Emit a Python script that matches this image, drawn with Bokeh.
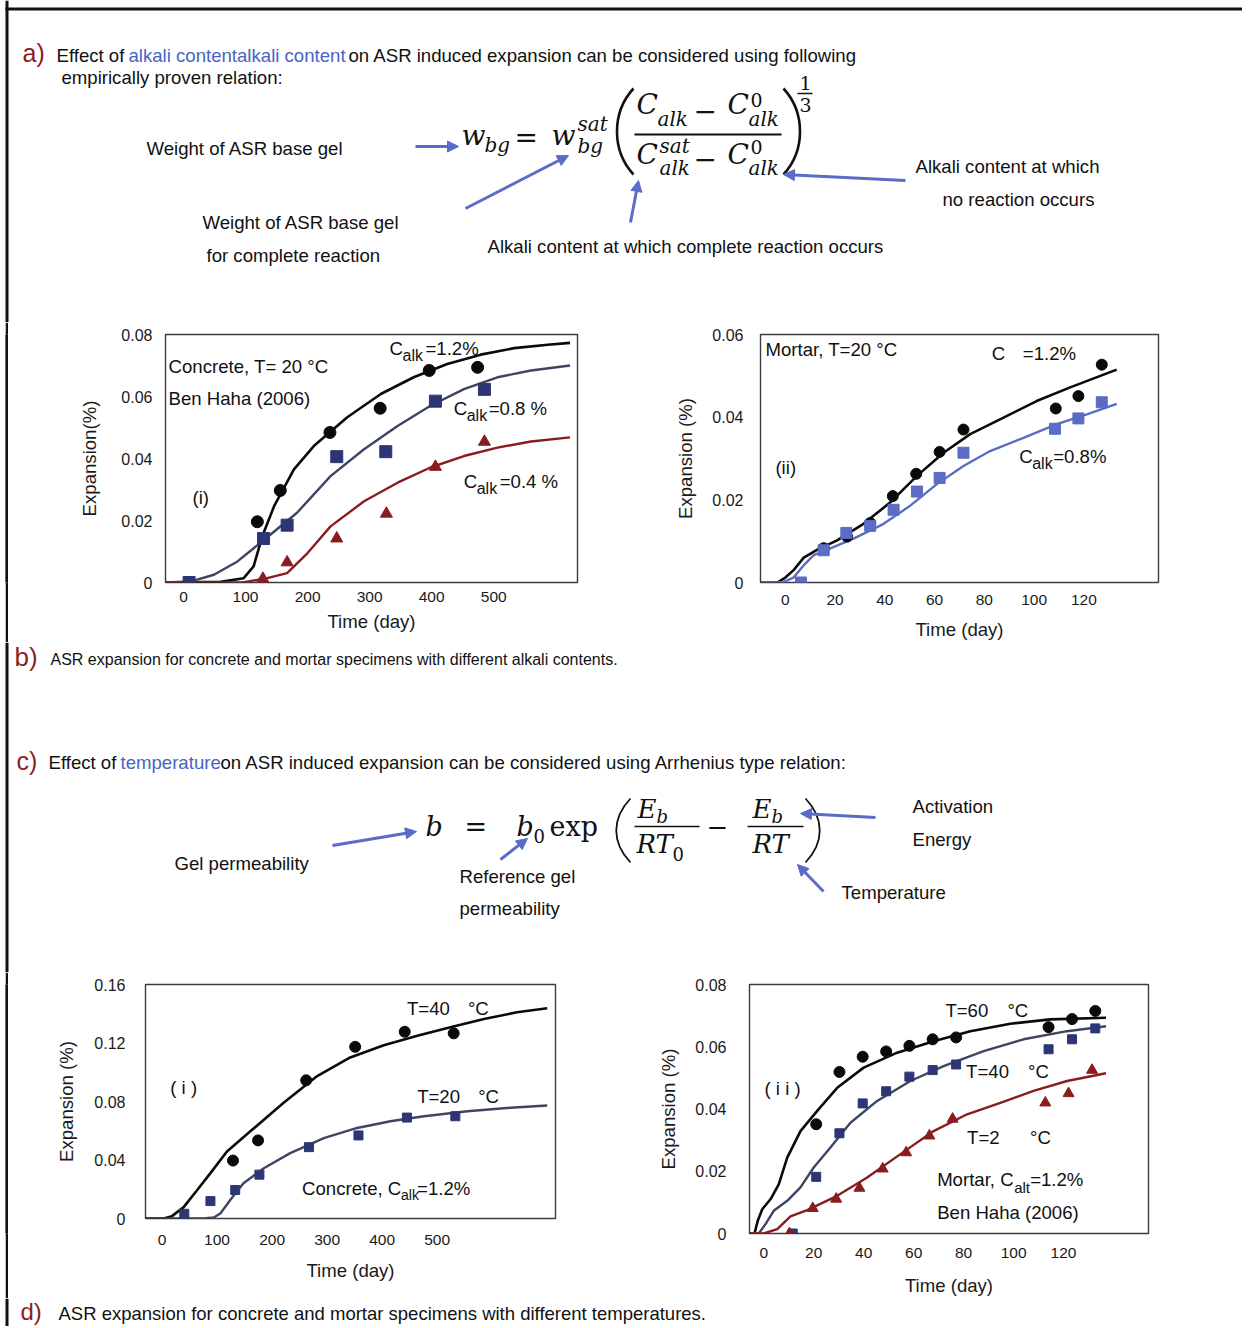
from bokeh.plotting import figure
from bokeh.layouts import column, row
from bokeh.models import Range1d, FixedTicker, Arrow, NormalHead, Spacer
from bokeh.core.properties import value
from bokeh.embed import file_html
from bokeh.resources import INLINE

SANS = "Liberation Sans"
SERIF = "DejaVu Serif"
RED = "#8b1d24"
BLUE_TXT = "#4863c6"
ARROW = "#5b6bc9"
INK = "#111111"
C_BLACK = "#0a0a0a"
C_NAVY = "#2c3675"
C_SLATE = "#3e4563"
C_RED = "#8a1c1f"
C_LBLUE = "#5a6cc4"
FS = 18.6

# ---------------- data: b(i) concrete, T=20 C ----------------
b1_pts_t_12 = [119, 156, 236, 317, 396, 474]
b1_pts_e_12 = [0.0196, 0.0297, 0.0484, 0.0562, 0.0684, 0.0694]
b1_pts_t_08 = [9, 129, 167, 247, 326, 406, 485]
b1_pts_e_08 = [0.0, 0.0142, 0.0185, 0.0406, 0.0422, 0.0585, 0.0623]
b1_pts_t_04 = [128, 167, 247, 327, 406, 485]
b1_pts_e_04 = [0.0012, 0.0065, 0.0142, 0.0222, 0.0373, 0.0454]
b1_fit_t_12 = [-29, 60, 97, 113, 127, 146, 178, 210, 264, 318, 371, 425, 479, 533, 587, 623]
b1_fit_e_12 = [0, 0.0002, 0.0014, 0.0052, 0.0149, 0.0246, 0.0365, 0.044, 0.0533, 0.0608,
               0.0662, 0.0705, 0.0735, 0.0756, 0.0767, 0.0773]
b1_fit_t_08 = [-29, 11, 49, 87, 130, 183, 237, 291, 345, 398, 452, 506, 560, 623]
b1_fit_e_08 = [0, 0.0003, 0.0025, 0.0068, 0.0138, 0.0225, 0.0343, 0.043, 0.0505, 0.057,
               0.0624, 0.0662, 0.0684, 0.0700]
b1_fit_t_04 = [-29, 95, 135, 167, 200, 237, 291, 345, 398, 452, 506, 560, 623]
b1_fit_e_04 = [0, 0, 0.0014, 0.003, 0.0095, 0.0181, 0.0262, 0.0322, 0.0371, 0.0408,
               0.0435, 0.0455, 0.0468]
b1_xticks = [0, 100, 200, 300, 400, 500]
b1_yticks = [0, 0.02, 0.04, 0.06, 0.08]
b1_ylabels = ["0", "0.02", "0.04", "0.06", "0.08"]

# ---------------- data: b(ii) mortar, T=20 C ----------------
b2_pts_t_12 = [15.4, 24.8, 34.1, 43.2, 52.6, 62, 71.6, 108.7, 117.8, 127.2]
b2_pts_e_12 = [0.0083, 0.0111, 0.0144, 0.0209, 0.0263, 0.0316, 0.037, 0.0421, 0.0451, 0.0527]
b2_pts_t_08 = [6.3, 15.4, 24.5, 34.1, 43.5, 52.9, 62, 71.6, 108.4, 117.8, 127.2]
b2_pts_e_08 = [0, 0.0078, 0.012, 0.0137, 0.0176, 0.022, 0.0253, 0.0314, 0.0372, 0.0397, 0.0436]
b2_fit_t_12 = [-10, -3.3, 0, 3.3, 7.4, 12.7, 20.8, 31.4, 42.2, 52.9, 63.6, 74.3, 87.7, 101, 114.5, 133.2]
b2_fit_e_12 = [0, 0, 0.0012, 0.003, 0.006, 0.0079, 0.0102, 0.0142, 0.0194, 0.0258, 0.0314,
               0.0359, 0.0399, 0.0439, 0.0472, 0.0515]
b2_fit_t_08 = [-10, -1.3, 3.3, 7.4, 11.4, 16.7, 27.4, 39.5, 50.2, 60.9, 71.6, 82.3, 95.7, 109.1, 121.2, 133.2]
b2_fit_e_08 = [0, 0, 0.0012, 0.0042, 0.0066, 0.0079, 0.0106, 0.0142, 0.0186, 0.0238, 0.0282,
               0.0318, 0.035, 0.0383, 0.0407, 0.0432]
b2_xticks = [0, 20, 40, 60, 80, 100, 120]
b2_yticks = [0, 0.02, 0.04, 0.06]
b2_ylabels = ["0", "0.02", "0.04", "0.06"]

# ---------------- data: d(i) concrete, C_alk=1.2% ----------------
d1_pts_t_40 = [129, 174.5, 262, 351, 441, 530]
d1_pts_e_40 = [0.0396, 0.0534, 0.0945, 0.1174, 0.1277, 0.1266]
d1_pts_t_20 = [40.5, 88, 133, 177, 267, 357, 445, 533]
d1_pts_e_20 = [0.0032, 0.0119, 0.0195, 0.03, 0.0488, 0.0568, 0.069, 0.0699]
d1_fit_t_40 = [-30, 3, 18, 39, 64, 88, 118, 160.5, 221, 282, 342, 403, 464, 524, 585, 645, 700]
d1_fit_e_40 = [0, 0, 0.0016, 0.0076, 0.0195, 0.031, 0.0458, 0.0596, 0.0791, 0.0974, 0.1101,
               0.1185, 0.1249, 0.1307, 0.1364, 0.141, 0.1438]
d1_fit_t_20 = [-30, 80, 94, 106, 124, 148, 185, 233, 294, 354.5, 415, 476, 555, 633, 700]
d1_fit_e_20 = [0, 0.0002, 0.0007, 0.0034, 0.0126, 0.0241, 0.0344, 0.0447, 0.055, 0.0619,
               0.0665, 0.0699, 0.0733, 0.0757, 0.0773]
d1_xticks = [0, 100, 200, 300, 400, 500]
d1_yticks = [0, 0.04, 0.08, 0.12, 0.16]
d1_ylabels = ["0", "0.04", "0.08", "0.12", "0.16"]

# ---------------- data: d(ii) mortar, C_alt=1.2% ----------------
d2_pts_t_60 = [21, 30.3, 39.6, 49, 58.3, 67.6, 77, 114, 123.4, 132.7]
d2_pts_e_60 = [0.0351, 0.0519, 0.0568, 0.0585, 0.0603, 0.0624, 0.063, 0.0663, 0.0689, 0.0715]
d2_pts_t_40 = [11.6, 21, 30.3, 39.6, 49, 58.3, 67.6, 77, 114, 123.4, 132.7]
d2_pts_e_40 = [0, 0.0182, 0.0322, 0.0418, 0.0457, 0.0504, 0.0525, 0.0543, 0.0592, 0.0624, 0.0659]
d2_pts_t_20 = [10.3, 19.6, 29, 38.3, 47.6, 57, 66.3, 75.6, 112.7, 122, 131.4]
d2_pts_e_20 = [0, 0.0081, 0.0111, 0.0146, 0.0208, 0.026, 0.0314, 0.0368, 0.042, 0.045, 0.0525]
d2_fit_t_60 = [-5.7, -3.7, -2.4, -0.6, 2.7, 6, 9.4, 14.7, 21.4, 29.4, 40, 53.4, 68, 82.7, 98.7, 114.7, 137]
d2_fit_e_60 = [0, 0, 0.0041, 0.0078, 0.011, 0.0158, 0.0244, 0.0329, 0.0394, 0.0468, 0.0533,
               0.0581, 0.0618, 0.065, 0.0674, 0.0688, 0.0693]
d2_fit_t_40 = [-5.7, -2, 0.7, 4, 9.4, 14.7, 20, 26.7, 34.7, 45.4, 58.7, 72, 88, 104, 121.4, 137]
d2_fit_e_40 = [0, 0, 0.003, 0.0073, 0.0105, 0.0148, 0.0212, 0.0276, 0.0356, 0.0426, 0.049,
               0.0538, 0.0586, 0.0624, 0.065, 0.0666]
d2_fit_t_20 = [-5.7, 0, 5.4, 10.7, 17.4, 29.4, 41.4, 54.7, 68, 81.4, 94.7, 108, 121.4, 137]
d2_fit_e_20 = [0, 0, 0.0014, 0.0055, 0.0075, 0.0121, 0.018, 0.0255, 0.0329, 0.0383, 0.042,
               0.0458, 0.049, 0.0515]
d2_xticks = [0, 20, 40, 60, 80, 100, 120]
d2_yticks = [0, 0.02, 0.04, 0.06, 0.08]
d2_ylabels = ["0", "0.02", "0.04", "0.06", "0.08"]

PAGE_W = 1242


# ---------------- helpers ----------------
def txt(p, x, y, s, size, color=INK, font=SANS, style="normal", align="left"):
    p.text(x=[x], y=[y], text=[s], text_font=value(font), text_font_size=value(f"{size}px"),
           text_color=color, text_font_style=style, text_baseline="middle", text_align=align)


def arrow(p, x0, y0, x1, y1):
    p.add_layout(Arrow(end=NormalHead(size=11, fill_color=ARROW, line_color=ARROW, line_width=1),
                       x_start=x0, y_start=y0, x_end=x1, y_end=y1,
                       line_color=ARROW, line_width=3))


def panel(y0, y1):
    p = figure(width=PAGE_W, height=y1 - y0, x_range=Range1d(0, PAGE_W), y_range=Range1d(y1, y0),
               output_backend="svg", toolbar_location=None, min_border=0,
               x_axis_location=None, y_axis_location=None)
    p.grid.grid_line_color = None
    p.outline_line_color = None
    p.quad(left=[5], right=[8], top=[y0], bottom=[y1], fill_color=INK, line_color=None)
    return p


def bar(h):
    p = figure(width=3, height=h, x_range=Range1d(0, 1), y_range=Range1d(0, 1),
               output_backend="svg", toolbar_location=None, min_border=0,
               x_axis_location=None, y_axis_location=None,
               background_fill_color=INK, border_fill_color=INK)
    p.grid.grid_line_color = None
    p.outline_line_color = None
    p.quad(left=[0], right=[1], top=[1], bottom=[0], fill_color=INK, line_color=None)
    return p


def chart(W, H, xr, yr, bl, br, bt, bb, xt, yt, ylab, xls, xas, yls, yas, ylabel):
    p = figure(width=W, height=H, x_range=Range1d(*xr), y_range=Range1d(*yr),
               output_backend="svg", toolbar_location=None,
               min_border_left=bl, min_border_right=br, min_border_top=bt, min_border_bottom=bb)
    p.grid.grid_line_color = None
    p.outline_line_color = "#3c3c3c"
    p.outline_line_width = 1.4
    p.xaxis.ticker = FixedTicker(ticks=xt)
    p.yaxis.ticker = FixedTicker(ticks=yt)
    p.yaxis.major_label_overrides = {v: s for v, s in zip(yt, ylab)}
    p.xaxis.major_label_standoff = xls
    p.xaxis.axis_label_standoff = xas
    p.yaxis.major_label_standoff = yls
    p.yaxis.axis_label_standoff = yas
    p.xaxis.axis_label = "Time (day)"
    p.yaxis.axis_label = ylabel
    for ax in p.axis:
        ax.axis_line_color = None
        ax.major_tick_line_color = None
        ax.minor_tick_line_color = None
        ax.major_tick_out = 0
        ax.major_tick_in = 0
        ax.major_label_text_font = SANS
        ax.major_label_text_color = "#1a1a1a"
        ax.axis_label_text_font = SANS
        ax.axis_label_text_font_size = f"{FS}px"
        ax.axis_label_text_font_style = "normal"
        ax.axis_label_text_color = "#1a1a1a"
    p.xaxis.major_label_text_font_size = "15.5px"
    p.yaxis.major_label_text_font_size = "16px"
    return p


def ctext(p, x, y, pieces):
    for s, dx, dy, fs in pieces:
        p.text(x=[x], y=[y], text=[s], x_offset=dx, y_offset=dy, text_font=value(SANS),
               text_font_size=value(f"{fs}px"), text_color=INK, text_baseline="middle",
               text_align="left")


# ================= section a =================
pa = panel(0, 322)
pa.quad(left=[5], right=[PAGE_W], top=[7], bottom=[10], fill_color=INK, line_color=None)
txt(pa, 22, 52, "a)", 25, RED)
txt(pa, 56, 55, "Effect of", FS)
txt(pa, 128, 55, "alkali contentalkali content", FS, BLUE_TXT)
txt(pa, 348, 55, "on ASR induced expansion can be considered using following", FS)
txt(pa, 61, 77, "empirically proven relation:", FS)
txt(pa, 146, 148, "Weight of ASR base gel", FS)
txt(pa, 202, 222, "Weight of ASR base gel", FS)
txt(pa, 206, 255, "for complete reaction", FS)
txt(pa, 487, 246, "Alkali content at which complete reaction occurs", FS)
txt(pa, 915, 166, "Alkali content at which", FS)
txt(pa, 942, 199, "no reaction occurs", FS)

EQA = [
    ("w", 461, 135, 28, "italic"), ("bg", 484, 144, 20, "italic"),
    ("=", 514, 137, 28, "normal"),
    ("w", 551, 135, 28, "italic"), ("sat", 577, 123, 20, "italic"), ("bg", 577, 145, 20, "italic"),
    ("C", 636, 104, 28, "italic"), ("alk", 657, 118, 20, "italic"),
    ("\u2212", 693, 110, 28, "normal"),
    ("C", 727, 104, 28, "italic"), ("0", 750, 99, 19, "normal"), ("alk", 748, 118, 20, "italic"),
    ("C", 636, 154, 28, "italic"), ("sat", 659, 145, 20, "italic"), ("alk", 659, 167, 20, "italic"),
    ("\u2212", 693, 158, 28, "normal"),
    ("C", 727, 154, 28, "italic"), ("0", 750, 146, 19, "normal"), ("alk", 748, 167, 20, "italic"),
    ("1", 799, 82, 19, "normal"), ("3", 799, 104, 19, "normal"),
]
for s, x, y, fs, st in EQA:
    txt(pa, x, y, s, fs, INK, SERIF, st)
pa.segment(x0=[634, 797], y0=[134, 93], x1=[781, 812], y1=[134, 93], line_color=INK,
           line_width=[2.2, 1.6])
pa.bezier(x0=[633, 783], y0=[88, 88], x1=[633, 783], y1=[174, 174],
          cx0=[611, 805], cy0=[112, 112], cx1=[611, 805], cy1=[150, 150],
          line_color=INK, line_width=2.6)
arrow(pa, 415, 146, 458, 146)
arrow(pa, 465, 208, 568, 155)
arrow(pa, 630, 222, 638, 180)
arrow(pa, 905, 180, 783, 174)

# ================= section b charts =================
b1 = chart(632, 320, (-29, 635), (0, 0.08), 157, 63, 12, 59, b1_xticks, b1_yticks, b1_ylabels,
           9, 6, 13, 18, "Expansion(%)")
b1.line(b1_fit_t_12, b1_fit_e_12, line_color=C_BLACK, line_width=2.6)
b1.line(b1_fit_t_08, b1_fit_e_08, line_color=C_SLATE, line_width=2.4)
b1.line(b1_fit_t_04, b1_fit_e_04, line_color=C_RED, line_width=2.4)
b1.scatter(b1_pts_t_12, b1_pts_e_12, marker="circle", size=12, fill_color=C_BLACK, line_color=C_BLACK)
b1.scatter(b1_pts_t_08, b1_pts_e_08, marker="square", size=12, fill_color=C_NAVY, line_color=C_NAVY)
b1.scatter(b1_pts_t_04, b1_pts_e_04, marker="triangle", size=12, fill_color=C_RED, line_color=C_RED)
ctext(b1, -24, 0.0696, [("Concrete, T= 20 \u00b0C", 0, 0, FS)])
ctext(b1, -24, 0.0595, [("Ben Haha (2006)", 0, 0, FS)])
ctext(b1, 14.5, 0.0274, [("(i)", 0, 0, FS)])
ctext(b1, 332, 0.0754, [("C", 0, 0, FS), ("alk", 13, 7, 16), ("=1.2%", 36, 0, FS)])
ctext(b1, 435.5, 0.056, [("C", 0, 0, FS), ("alk", 13, 7, 16), ("=0.8 %", 35, 0, FS)])
ctext(b1, 451.6, 0.0325, [("C", 0, 0, FS), ("alk", 13, 7, 16), ("=0.4  %", 36, 0, FS)])

b2 = chart(602, 320, (-10, 150), (0, 0.06), 120, 84, 12, 59, b2_xticks, b2_yticks, b2_ylabels,
           12, 11, 17, 13, "Expansion (%)")
b2.line(b2_fit_t_12, b2_fit_e_12, line_color=C_BLACK, line_width=2.6)
b2.line(b2_fit_t_08, b2_fit_e_08, line_color=C_LBLUE, line_width=2.4)
b2.scatter(b2_pts_t_12, b2_pts_e_12, marker="circle", size=11, fill_color=C_BLACK, line_color=C_BLACK)
b2.scatter(b2_pts_t_08, b2_pts_e_08, marker="square", size=11, fill_color=C_LBLUE, line_color=C_LBLUE)
ctext(b2, -8, 0.0564, [("Mortar, T=20 \u00b0C", 0, 0, FS)])
ctext(b2, 83, 0.0554, [("C", 0, 0, FS), ("=1.2%", 31, 0, FS)])
ctext(b2, 94, 0.0306, [("C", 0, 0, FS), ("alk", 13, 7, 16), ("=0.8%", 34, 0, FS)])
ctext(b2, -4, 0.0278, [("(ii)", 0, 0, FS)])

# ================= section b caption + c =================
pm = panel(642, 972)
txt(pm, 14, 656, "b)", 26, RED)
txt(pm, 50, 659, "ASR expansion for concrete and mortar specimens with different alkali contents.", 16)
txt(pm, 16, 760, "c)", 25, RED)
txt(pm, 48, 762, "Effect of", FS)
txt(pm, 120, 762, "temperature", FS, BLUE_TXT)
txt(pm, 220, 762, "on ASR induced expansion can be considered using Arrhenius type relation:", FS)
txt(pm, 174, 863, "Gel permeability", FS)
txt(pm, 459, 876, "Reference gel", FS)
txt(pm, 459, 908, "permeability", FS)
txt(pm, 912, 806, "Activation", FS)
txt(pm, 912, 839, "Energy", FS)
txt(pm, 841, 892, "Temperature", FS)

EQC = [
    ("b", 425, 826, 27, "italic"), ("=", 464, 826, 27, "normal"),
    ("b", 516, 826, 27, "italic"), ("0", 533, 835, 18, "normal"),
    ("exp", 549, 825.5, 27, "normal"),
    ("E", 637, 808.5, 26, "italic"), ("b", 656, 815.5, 18, "italic"),
    ("RT", 636, 843.5, 26, "italic"), ("0", 672, 853, 18, "normal"),
    ("\u2212", 706, 826, 26, "normal"),
    ("E", 752, 808.5, 26, "italic"), ("b", 771, 815.5, 18, "italic"),
    ("RT", 752, 843.5, 26, "italic"),
]
for s, x, y, fs, st in EQC:
    txt(pm, x, y, s, fs, INK, SERIF, st)
pm.segment(x0=[634, 747], y0=[826, 826], x1=[699, 803], y1=[826, 826], line_color=INK, line_width=1.6)
pm.bezier(x0=[630, 805], y0=[798, 798], x1=[630, 805], y1=[862, 862],
          cx0=[611, 824], cy0=[818, 818], cx1=[611, 824], cy1=[842, 842],
          line_color=INK, line_width=1.8)
arrow(pm, 332, 845, 416, 831)
arrow(pm, 500, 859, 527, 838)
arrow(pm, 875, 817, 800, 813)
arrow(pm, 823, 891, 797, 864)

# ================= section d charts =================
d1 = chart(612, 311, (-30, 715), (0, 0.16), 137, 65, 12, 65, d1_xticks, d1_yticks, d1_ylabels,
           16, 12, 20, 14, "Expansion (%)")
d1.line(d1_fit_t_40, d1_fit_e_40, line_color=C_BLACK, line_width=2.6)
d1.line(d1_fit_t_20, d1_fit_e_20, line_color=C_SLATE, line_width=2.4)
d1.scatter(d1_pts_t_40, d1_pts_e_40, marker="circle", size=11, fill_color=C_BLACK, line_color=C_BLACK)
d1.scatter(d1_pts_t_20, d1_pts_e_20, marker="square", size=9, fill_color=C_NAVY, line_color=C_NAVY)
ctext(d1, 445, 0.1438, [("T=40", 0, 0, FS), ("\u00b0C", 61, 0, FS)])
ctext(d1, 463.6, 0.0832, [("T=20", 0, 0, FS), ("\u00b0C", 61, 0, FS)])
ctext(d1, 15, 0.0894, [("( i )", 0, 0, FS)])
ctext(d1, 254.5, 0.0208, [("Concrete, C", 0, 0, FS), ("alk", 99, 7, 14), ("=1.2%", 115, 0, FS)])

d2 = chart(622, 326, (-5.7, 154), (0, 0.08), 129, 94, 12, 65, d2_xticks, d2_yticks, d2_ylabels,
           14, 14, 23, 13, "Expansion (%)")
d2.line(d2_fit_t_60, d2_fit_e_60, line_color=C_BLACK, line_width=2.6)
d2.line(d2_fit_t_40, d2_fit_e_40, line_color=C_SLATE, line_width=2.4)
d2.line(d2_fit_t_20, d2_fit_e_20, line_color=C_RED, line_width=2.4)
d2.scatter(d2_pts_t_60, d2_pts_e_60, marker="circle", size=11, fill_color=C_BLACK, line_color=C_BLACK)
d2.scatter(d2_pts_t_40, d2_pts_e_40, marker="square", size=9, fill_color=C_NAVY, line_color=C_NAVY)
d2.scatter(d2_pts_t_20, d2_pts_e_20, marker="triangle", size=11, fill_color=C_RED, line_color=C_RED)
ctext(d2, 72.7, 0.0717, [("T=60", 0, 0, FS), ("\u00b0C", 62, 0, FS)])
ctext(d2, 81, 0.0522, [("T=40", 0, 0, FS), ("\u00b0C", 62, 0, FS)])
ctext(d2, 81.4, 0.0308, [("T=2", 0, 0, FS), ("\u00b0C", 63, 0, FS)])
ctext(d2, 0.3, 0.0465, [("( i i )", 0, 0, FS)])
ctext(d2, 69.4, 0.0172, [("Mortar, C", 0, 0, FS), ("alt", 77, 8, 15), ("=1.2%", 93, 0, FS)])
ctext(d2, 69.4, 0.0067, [("Ben Haha (2006)", 0, 0, FS)])

# ================= d caption =================
pf = panel(1298, 1326)
txt(pf, 20, 1311, "d)", 24, RED)
txt(pf, 58, 1313, "ASR expansion for concrete and mortar specimens with different temperatures.", 18.5)

layout = column(
    pa,
    row(Spacer(width=5, height=320), bar(320), b1, b2),
    pm,
    row(Spacer(width=5, height=326), bar(326), d1, d2),
    pf,
)

open("out.html", "w").write(file_html(layout, INLINE))
